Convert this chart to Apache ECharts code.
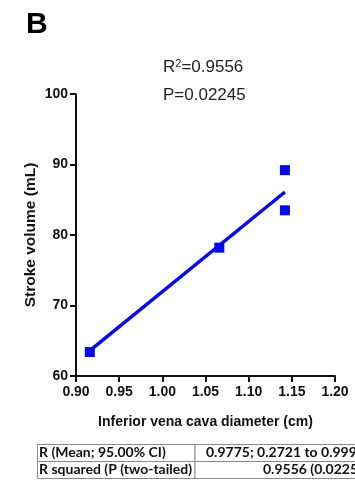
<!DOCTYPE html>
<html>
<head>
<meta charset="utf-8">
<script src="https://cdn.jsdelivr.net/npm/echarts@6/dist/echarts.min.js"></script>
<style>
  html, body { margin: 0; padding: 0; background: #fff; }
  #chart { width: 355px; height: 485px; }
</style>
</head>
<body>
<div id="chart"></div>
<script>
// measured points (IVC diameter cm, stroke volume mL)
const ivcDiameter = [0.916, 1.066, 1.142, 1.142]
const strokeVolume = [63.4, 78.2, 89.2, 83.5]
// ends of the fitted regression line
const fitX = [0.916, 1.142]
const fitY = [63.6, 86.1]
const xTicks = [0.90, 0.95, 1.00, 1.05, 1.10, 1.15, 1.20]
const yTicks = [60, 70, 80, 90, 100]
const tableRows = [
  ["R (Mean; 95.00% CI)", "0.9775; 0.2721 to 0.9995"],
  ["R squared (P (two-tailed)", "0.9556 (0.0225)"]
]

const chart = echarts.init(document.getElementById("chart"), null, { renderer: "canvas" })
const blue = "#0808ee"
const axisFont = "'Liberation Sans', Arial, sans-serif"
const tableFont = "bold 14px Lato, sans-serif"

const tableTop = 444
const rowH = 17
const tableGraphics = []
tableRows.forEach((row, i) => {
  const y = tableTop + i * rowH
  tableGraphics.push({
    type: "rect",
    shape: { x: 37.5, y: y + 0.5, width: 157.5, height: rowH },
    style: { fill: "#fff", stroke: "#8a8a8a", lineWidth: 1 }
  })
  tableGraphics.push({
    type: "rect",
    shape: { x: 195, y: y + 0.5, width: 170, height: rowH },
    style: { fill: "#fff", stroke: "#8a8a8a", lineWidth: 1 }
  })
  tableGraphics.push({
    type: "text",
    left: 39,
    top: y + 1,
    style: { text: row[0], font: tableFont, fill: "#111" }
  })
  tableGraphics.push({
    type: "text",
    left: i === 0 ? 206 : 263,
    top: y + 1,
    style: { text: row[1], font: tableFont, fill: "#111" }
  })
})

const option = {
  animation: false,
  grid: { left: 76, right: 20, top: 94, bottom: 109 },
  xAxis: {
    type: "value",
    min: xTicks[0],
    max: xTicks[xTicks.length - 1],
    interval: 0.05,
    name: "Inferior vena cava diameter (cm)",
    nameLocation: "middle",
    nameGap: 39,
    nameMoveOverlap: false,
    nameTextStyle: { fontFamily: axisFont, fontWeight: "bold", fontSize: 14, color: "#111" },
    axisLine: { lineStyle: { color: "#111", width: 2 } },
    axisTick: { show: true, length: 6, lineStyle: { color: "#111", width: 2 } },
    axisLabel: {
      fontFamily: axisFont, fontWeight: "bold", fontSize: 14, color: "#111", margin: 9,
      formatter: v => v.toFixed(2)
    },
    splitLine: { show: false }
  },
  yAxis: {
    type: "value",
    min: yTicks[0],
    max: yTicks[yTicks.length - 1],
    interval: 10,
    name: "Stroke volume (mL)",
    nameLocation: "middle",
    nameGap: 37,
    nameMoveOverlap: false,
    nameTextStyle: { fontFamily: axisFont, fontWeight: "bold", fontSize: 15.5, color: "#111" },
    axisLine: { show: true, lineStyle: { color: "#111", width: 2 } },
    axisTick: { show: true, length: 6, lineStyle: { color: "#111", width: 2 } },
    axisLabel: { fontFamily: axisFont, fontWeight: "bold", fontSize: 14, color: "#111", margin: 8 },
    splitLine: { show: false }
  },
  series: [
    {
      type: "line",
      data: fitX.map((x, i) => [x, fitY[i]]),
      showSymbol: false,
      lineStyle: { color: blue, width: 3.5 },
      z: 2
    },
    {
      type: "scatter",
      data: ivcDiameter.map((x, i) => [x, strokeVolume[i]]),
      symbol: "rect",
      symbolSize: 10,
      itemStyle: { color: blue, opacity: 1 },
      z: 3
    }
  ],
  graphic: [
    {
      type: "text",
      left: 26,
      top: 10,
      style: { text: "B", font: "bold 30px 'Liberation Sans', Arial, sans-serif", fill: "#000" }
    },
    {
      type: "text",
      left: 163,
      top: 58,
      style: {
        text: "{r|R}{sup|2}{r|=0.9556}",
        rich: {
          r: { fontFamily: axisFont, fontSize: 17, fill: "#222" },
          sup: { fontFamily: axisFont, fontSize: 11, fill: "#222", verticalAlign: "top", padding: [0, 0, 8, 0] }
        }
      }
    },
    {
      type: "text",
      left: 163,
      top: 87,
      style: { text: "P=0.02245", font: "17px 'Liberation Sans', Arial, sans-serif", fill: "#222" }
    },
    ...tableGraphics
  ]
}

chart.setOption(option)
</script>
</body>
</html>
